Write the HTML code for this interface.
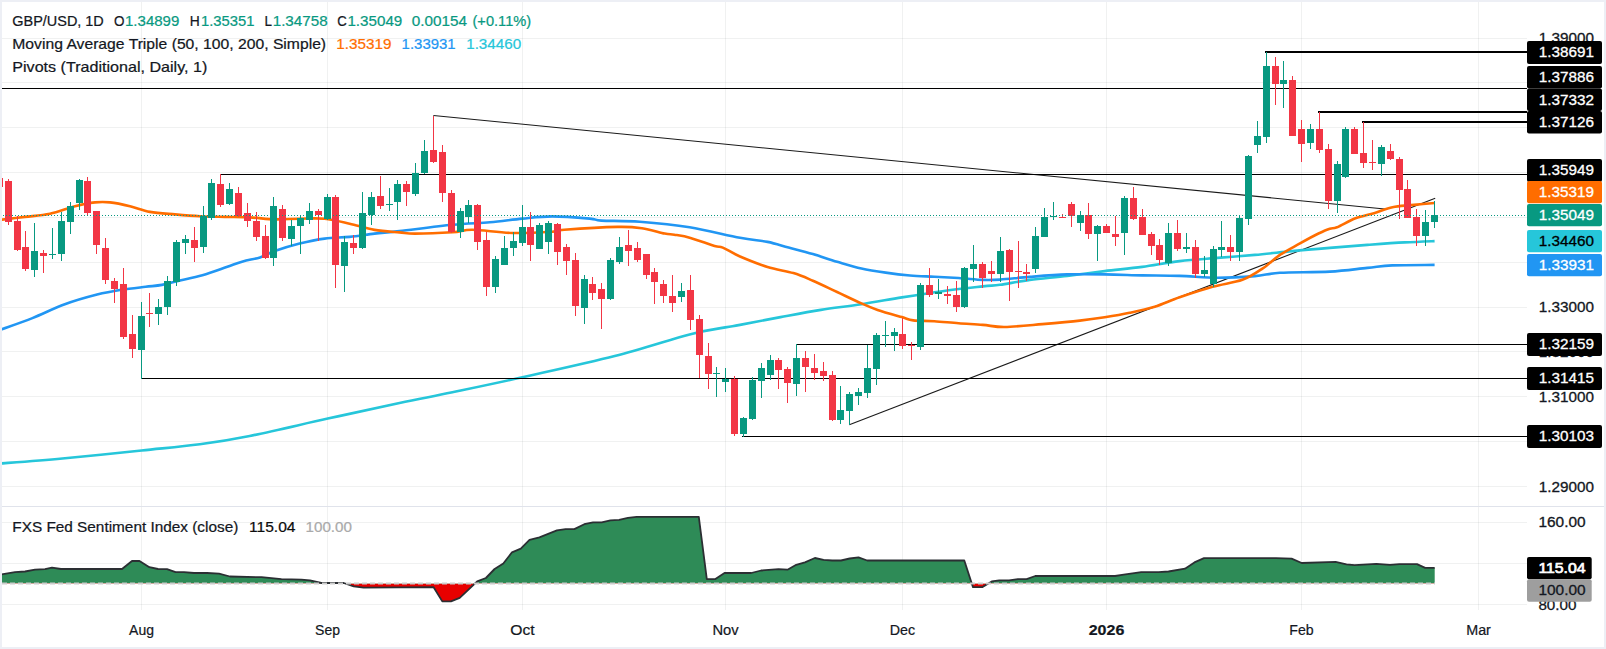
<!DOCTYPE html><html><head><meta charset="utf-8"><title>GBP/USD chart</title><style>html,body{margin:0;padding:0;background:#fff}svg{display:block}text{font-family:"Liberation Sans","DejaVu Sans",sans-serif}</style></head><body>
<svg width="1606" height="649" viewBox="0 0 1606 649">
<rect width="1606" height="649" fill="#fff"/>
<g stroke="rgb(110,125,125)" stroke-opacity="0.105" stroke-width="1" shape-rendering="crispEdges">
<line x1="0" y1="38.5" x2="1527" y2="38.5"/>
<line x1="0" y1="82.5" x2="1527" y2="82.5"/>
<line x1="0" y1="127.5" x2="1527" y2="127.5"/>
<line x1="0" y1="172.5" x2="1527" y2="172.5"/>
<line x1="0" y1="217.5" x2="1527" y2="217.5"/>
<line x1="0" y1="262.5" x2="1527" y2="262.5"/>
<line x1="0" y1="307.5" x2="1527" y2="307.5"/>
<line x1="0" y1="351.5" x2="1527" y2="351.5"/>
<line x1="0" y1="396.5" x2="1527" y2="396.5"/>
<line x1="0" y1="441.5" x2="1527" y2="441.5"/>
<line x1="0" y1="486.5" x2="1527" y2="486.5"/>
<line x1="0" y1="522.5" x2="1527" y2="522.5"/>
<line x1="0" y1="563.5" x2="1527" y2="563.5"/>
<line x1="0" y1="604.5" x2="1527" y2="604.5"/>
<line x1="141.5" y1="0" x2="141.5" y2="610"/>
<line x1="327.5" y1="0" x2="327.5" y2="610"/>
<line x1="522.5" y1="0" x2="522.5" y2="610"/>
<line x1="725.5" y1="0" x2="725.5" y2="610"/>
<line x1="902.5" y1="0" x2="902.5" y2="610"/>
<line x1="1106.5" y1="0" x2="1106.5" y2="610"/>
<line x1="1301.5" y1="0" x2="1301.5" y2="610"/>
<line x1="1478.5" y1="0" x2="1478.5" y2="610"/>
</g>
<line x1="0" y1="506.5" x2="1606" y2="506.5" stroke="#e0e3eb" stroke-width="1" shape-rendering="crispEdges"/>
<g stroke="#1a1a1a" stroke-width="1.05" fill="none">
<line x1="433.4" y1="115.5" x2="1387.2" y2="209.2"/>
<line x1="849.3" y1="424.8" x2="1435.2" y2="198.3"/>
</g>
<path d="M0.0,463.5 C10.4,462.7 38.8,460.7 62.4,458.5 C86.0,456.3 118.7,452.9 141.6,450.5 C164.5,448.1 181.8,446.7 199.8,444.3 C217.8,441.9 228.4,440.3 249.7,436.0 C271.0,431.7 302.8,424.1 327.8,418.6 C352.8,413.1 378.7,407.4 399.5,403.0 C420.3,398.6 431.9,396.6 452.4,392.3 C472.9,388.0 495.2,383.4 522.3,377.3 C549.3,371.2 586.8,363.1 614.7,356.0 C642.6,348.9 671.2,339.2 689.6,334.4 C708.0,329.6 716.9,329.0 725.3,327.4 C733.7,325.8 730.8,326.6 740.0,324.9 C749.2,323.2 767.0,319.6 780.5,317.1 C794.0,314.6 807.4,312.0 820.9,309.9 C834.4,307.8 847.9,306.3 861.4,304.2 C874.9,302.1 888.4,299.6 901.9,297.4 C915.4,295.2 928.9,293.0 942.4,291.2 C955.9,289.4 973.2,287.5 982.8,286.4 C992.4,285.3 992.2,285.9 1000.0,284.8 C1007.8,283.7 1018.6,281.4 1029.8,279.9 C1041.0,278.4 1054.8,277.4 1067.3,275.9 C1079.8,274.4 1092.2,272.6 1104.7,271.1 C1117.2,269.6 1129.7,268.6 1142.2,266.9 C1154.7,265.2 1167.0,262.6 1179.6,261.1 C1192.1,259.6 1205.0,258.9 1217.5,257.9 C1230.0,256.9 1242.4,256.0 1254.9,254.9 C1267.4,253.8 1279.9,252.3 1292.4,251.1 C1304.9,249.9 1317.3,248.9 1329.8,247.9 C1342.3,246.9 1354.8,245.8 1367.3,244.9 C1379.8,244.0 1393.5,243.0 1404.7,242.4 C1415.9,241.8 1429.6,241.3 1434.6,241.1" fill="none" stroke="#26c6da" stroke-width="2.6" stroke-linejoin="round"/>
<path d="M0.0,329.9 C5.4,327.9 21.6,322.4 32.4,318.1 C43.2,313.8 54.0,308.2 64.8,304.3 C75.6,300.4 87.7,297.0 97.1,294.6 C106.5,292.2 113.3,291.1 121.4,289.8 C129.5,288.5 138.9,287.6 145.7,286.8 C152.4,286.0 156.5,285.9 161.9,284.9 C167.3,283.9 171.3,282.5 178.1,280.9 C184.8,279.3 194.3,277.5 202.4,275.2 C210.5,272.9 219.9,269.4 226.6,267.1 C233.3,264.8 237.2,263.0 242.8,261.4 C248.4,259.8 254.7,259.1 260.0,257.4 C265.3,255.7 268.1,253.4 274.7,251.1 C281.3,248.8 291.3,245.7 299.6,243.6 C307.9,241.5 316.3,239.7 324.6,238.6 C332.9,237.5 341.3,237.7 349.6,236.9 C357.9,236.1 366.2,234.6 374.5,233.6 C382.8,232.6 386.5,232.6 399.5,231.1 C412.5,229.6 437.3,226.3 452.4,224.8 C467.5,223.3 478.2,223.3 489.9,222.3 C501.5,221.3 511.9,219.6 522.3,218.6 C532.7,217.6 541.0,216.4 552.3,216.4 C563.5,216.4 581.6,217.9 589.8,218.6 C598.0,219.3 593.1,220.1 601.4,220.6 C609.7,221.1 625.0,220.7 639.7,221.8 C654.4,222.9 672.9,224.6 689.6,227.3 C706.3,230.0 727.0,235.4 740.0,237.8 C753.0,240.2 759.4,240.3 767.5,241.9 C775.6,243.5 781.0,245.5 788.6,247.5 C796.2,249.5 804.8,251.6 812.9,254.0 C821.0,256.4 829.0,259.4 837.1,261.8 C845.2,264.2 853.3,266.8 861.4,268.6 C869.5,270.4 877.6,271.5 885.7,272.6 C893.8,273.8 901.9,274.8 910.0,275.5 C918.1,276.2 926.2,276.3 934.3,276.7 C942.4,277.1 950.5,277.5 958.6,278.0 C966.7,278.5 975.9,279.6 982.8,279.9 C989.7,280.2 992.2,280.1 1000.0,279.6 C1007.8,279.1 1018.6,277.8 1029.8,276.9 C1041.0,276.0 1054.8,274.8 1067.3,274.4 C1079.8,274.0 1092.2,274.2 1104.7,274.4 C1117.2,274.6 1129.7,275.1 1142.2,275.4 C1154.7,275.6 1167.0,275.5 1179.6,275.9 C1192.1,276.3 1205.0,277.8 1217.5,277.8 C1230.0,277.8 1244.5,276.9 1254.9,276.1 C1265.3,275.3 1267.4,273.6 1279.9,272.8 C1292.4,272.1 1315.2,272.4 1329.8,271.6 C1344.4,270.8 1356.9,268.9 1367.3,267.9 C1377.7,266.9 1381.0,265.9 1392.2,265.4 C1403.4,264.9 1427.5,265.0 1434.6,264.9" fill="none" stroke="#2196f3" stroke-width="2.6" stroke-linejoin="round"/>
<path d="M0.0,219.9 C4.2,219.4 16.7,217.9 25.0,216.9 C33.3,215.9 41.7,215.5 50.0,213.7 C58.3,211.9 67.5,208.1 75.0,206.2 C82.5,204.3 89.2,203.0 95.0,202.4 C100.8,201.8 104.2,201.8 110.0,202.4 C115.8,203.0 123.3,204.6 130.0,206.2 C136.7,207.8 142.5,210.5 150.0,211.9 C157.5,213.3 166.7,213.7 175.0,214.4 C183.3,215.1 191.7,215.8 200.0,216.2 C208.3,216.6 216.4,216.7 224.7,216.9 C233.0,217.1 241.7,217.0 250.0,217.4 C258.3,217.8 266.4,219.2 274.7,219.4 C283.0,219.6 291.3,218.8 299.6,218.7 C307.9,218.6 316.3,217.9 324.6,218.7 C332.9,219.5 341.3,221.8 349.6,223.7 C357.9,225.6 366.2,228.4 374.5,229.9 C382.8,231.4 392.8,231.8 399.5,232.4 C406.2,233.0 406.2,233.6 415.0,233.6 C423.8,233.6 442.8,232.9 452.4,232.3 C462.0,231.7 462.4,229.7 472.4,229.8 C482.4,229.9 499.1,232.7 512.4,233.0 C525.7,233.3 543.7,232.3 552.3,231.8 C560.9,231.3 553.3,230.6 564.2,229.8 C575.1,229.0 604.7,227.2 617.6,226.9 C630.5,226.6 634.0,227.1 641.9,228.2 C649.8,229.3 659.3,232.5 664.7,233.6 C670.1,234.7 670.0,234.0 674.3,234.7 C678.6,235.4 683.8,236.0 690.5,237.9 C697.2,239.8 709.2,244.4 714.6,246.0 C720.0,247.6 718.6,245.8 722.8,247.6 C727.0,249.3 732.5,253.3 740.0,256.5 C747.5,259.7 758.6,264.2 767.5,267.0 C776.4,269.8 785.8,270.8 793.4,273.1 C801.0,275.4 805.6,277.6 812.9,280.7 C820.2,283.8 829.0,288.2 837.1,292.0 C845.2,295.8 854.6,300.4 861.4,303.4 C868.1,306.4 870.9,307.6 877.6,309.9 C884.4,312.2 896.0,315.4 901.9,317.1 C907.8,318.9 907.8,319.7 913.2,320.4 C918.6,321.1 926.7,320.7 934.3,321.2 C941.9,321.7 950.5,322.7 958.6,323.3 C966.7,323.9 975.1,324.3 982.8,324.9 C990.5,325.5 994.7,327.1 1004.6,327.0 C1014.5,326.9 1029.8,325.2 1042.3,324.1 C1054.8,323.0 1069.4,321.7 1079.8,320.6 C1090.2,319.5 1096.4,318.6 1104.7,317.3 C1113.0,316.0 1121.4,314.6 1129.7,312.8 C1138.0,311.1 1146.4,309.4 1154.7,306.8 C1163.0,304.2 1170.0,300.6 1179.6,297.3 C1189.2,294.0 1202.0,289.7 1212.5,286.8 C1223.0,283.9 1234.1,282.8 1242.4,279.8 C1250.7,276.8 1256.2,272.8 1262.4,268.6 C1268.7,264.5 1273.6,259.1 1279.9,254.9 C1286.2,250.7 1293.6,247.0 1300.0,243.4 C1306.4,239.8 1313.5,235.9 1318.5,233.5 C1323.5,231.1 1326.7,229.7 1329.8,228.7 C1332.9,227.7 1332.7,229.0 1337.0,227.3 C1341.3,225.6 1349.3,220.7 1355.5,218.3 C1361.7,216.0 1367.8,215.0 1374.0,213.2 C1380.2,211.3 1386.3,208.5 1392.5,207.2 C1398.7,205.8 1404.0,205.8 1411.0,205.1 C1418.0,204.4 1430.7,203.3 1434.6,203.0" fill="none" stroke="#ff6d00" stroke-width="2.6" stroke-linejoin="round"/>
<g fill="#000" shape-rendering="crispEdges">
<rect x="1265" y="51" width="262" height="2"/>
<rect x="0" y="88" width="1527" height="1"/>
<rect x="1318" y="111" width="209" height="2"/>
<rect x="1362" y="121" width="165" height="2"/>
<rect x="220" y="174" width="1307" height="1"/>
<rect x="796" y="344" width="731" height="1"/>
<rect x="141" y="378" width="1386" height="1"/>
<rect x="742" y="436" width="785" height="1"/>
</g>
<g shape-rendering="crispEdges">
<rect x="-1" y="177" width="1" height="11" fill="#f23645"/>
<rect x="-4" y="178" width="7" height="9" fill="#f23645"/>
<rect x="8" y="179" width="1" height="46" fill="#f23645"/>
<rect x="5" y="181" width="7" height="41" fill="#f23645"/>
<rect x="17" y="216" width="1" height="35" fill="#f23645"/>
<rect x="14" y="221" width="7" height="29" fill="#f23645"/>
<rect x="25" y="231" width="1" height="40" fill="#f23645"/>
<rect x="22" y="247" width="7" height="22" fill="#f23645"/>
<rect x="34" y="223" width="1" height="54" fill="#089981"/>
<rect x="31" y="251" width="7" height="19" fill="#089981"/>
<rect x="43" y="250" width="1" height="23" fill="#f23645"/>
<rect x="40" y="253" width="7" height="3" fill="#f23645"/>
<rect x="52" y="228" width="1" height="31" fill="#089981"/>
<rect x="49" y="254" width="7" height="1" fill="#089981"/>
<rect x="61" y="212" width="1" height="49" fill="#089981"/>
<rect x="58" y="221" width="7" height="33" fill="#089981"/>
<rect x="70" y="202" width="1" height="32" fill="#089981"/>
<rect x="67" y="206" width="7" height="16" fill="#089981"/>
<rect x="79" y="179" width="1" height="31" fill="#089981"/>
<rect x="76" y="180" width="7" height="23" fill="#089981"/>
<rect x="87" y="177" width="1" height="39" fill="#f23645"/>
<rect x="84" y="181" width="7" height="32" fill="#f23645"/>
<rect x="96" y="211" width="1" height="43" fill="#f23645"/>
<rect x="93" y="211" width="7" height="34" fill="#f23645"/>
<rect x="105" y="238" width="1" height="46" fill="#f23645"/>
<rect x="102" y="248" width="7" height="32" fill="#f23645"/>
<rect x="114" y="278" width="1" height="25" fill="#f23645"/>
<rect x="111" y="281" width="7" height="8" fill="#f23645"/>
<rect x="123" y="268" width="1" height="71" fill="#f23645"/>
<rect x="120" y="284" width="7" height="53" fill="#f23645"/>
<rect x="132" y="315" width="1" height="43" fill="#f23645"/>
<rect x="129" y="334" width="7" height="15" fill="#f23645"/>
<rect x="141" y="302" width="1" height="77" fill="#089981"/>
<rect x="138" y="316" width="7" height="34" fill="#089981"/>
<rect x="149" y="293" width="1" height="34" fill="#f23645"/>
<rect x="146" y="313" width="7" height="1" fill="#f23645"/>
<rect x="158" y="299" width="1" height="26" fill="#089981"/>
<rect x="155" y="307" width="7" height="7" fill="#089981"/>
<rect x="167" y="276" width="1" height="39" fill="#089981"/>
<rect x="164" y="281" width="7" height="26" fill="#089981"/>
<rect x="176" y="240" width="1" height="46" fill="#089981"/>
<rect x="173" y="242" width="7" height="40" fill="#089981"/>
<rect x="185" y="235" width="1" height="19" fill="#089981"/>
<rect x="182" y="239" width="7" height="4" fill="#089981"/>
<rect x="194" y="227" width="1" height="35" fill="#f23645"/>
<rect x="191" y="240" width="7" height="8" fill="#f23645"/>
<rect x="203" y="206" width="1" height="47" fill="#089981"/>
<rect x="200" y="216" width="7" height="31" fill="#089981"/>
<rect x="211" y="179" width="1" height="41" fill="#089981"/>
<rect x="208" y="183" width="7" height="35" fill="#089981"/>
<rect x="220" y="174" width="1" height="33" fill="#f23645"/>
<rect x="217" y="184" width="7" height="21" fill="#f23645"/>
<rect x="229" y="183" width="1" height="22" fill="#089981"/>
<rect x="226" y="189" width="7" height="15" fill="#089981"/>
<rect x="238" y="187" width="1" height="30" fill="#f23645"/>
<rect x="235" y="193" width="7" height="23" fill="#f23645"/>
<rect x="247" y="203" width="1" height="24" fill="#f23645"/>
<rect x="244" y="213" width="7" height="8" fill="#f23645"/>
<rect x="256" y="212" width="1" height="29" fill="#f23645"/>
<rect x="253" y="221" width="7" height="16" fill="#f23645"/>
<rect x="265" y="225" width="1" height="34" fill="#f23645"/>
<rect x="262" y="236" width="7" height="22" fill="#f23645"/>
<rect x="273" y="197" width="1" height="69" fill="#089981"/>
<rect x="270" y="206" width="7" height="52" fill="#089981"/>
<rect x="282" y="205" width="1" height="36" fill="#f23645"/>
<rect x="279" y="209" width="7" height="29" fill="#f23645"/>
<rect x="291" y="220" width="1" height="26" fill="#089981"/>
<rect x="288" y="226" width="7" height="13" fill="#089981"/>
<rect x="300" y="216" width="1" height="38" fill="#089981"/>
<rect x="297" y="218" width="7" height="8" fill="#089981"/>
<rect x="309" y="203" width="1" height="21" fill="#089981"/>
<rect x="306" y="211" width="7" height="9" fill="#089981"/>
<rect x="318" y="209" width="1" height="32" fill="#f23645"/>
<rect x="315" y="211" width="7" height="4" fill="#f23645"/>
<rect x="327" y="194" width="1" height="26" fill="#089981"/>
<rect x="324" y="197" width="7" height="22" fill="#089981"/>
<rect x="335" y="195" width="1" height="93" fill="#f23645"/>
<rect x="332" y="197" width="7" height="68" fill="#f23645"/>
<rect x="344" y="236" width="1" height="56" fill="#089981"/>
<rect x="341" y="242" width="7" height="24" fill="#089981"/>
<rect x="353" y="235" width="1" height="19" fill="#f23645"/>
<rect x="350" y="243" width="7" height="5" fill="#f23645"/>
<rect x="362" y="192" width="1" height="57" fill="#089981"/>
<rect x="359" y="213" width="7" height="35" fill="#089981"/>
<rect x="371" y="192" width="1" height="33" fill="#089981"/>
<rect x="368" y="197" width="7" height="18" fill="#089981"/>
<rect x="380" y="176" width="1" height="33" fill="#f23645"/>
<rect x="377" y="196" width="7" height="10" fill="#f23645"/>
<rect x="389" y="188" width="1" height="23" fill="#089981"/>
<rect x="386" y="204" width="7" height="1" fill="#089981"/>
<rect x="397" y="180" width="1" height="40" fill="#089981"/>
<rect x="394" y="184" width="7" height="18" fill="#089981"/>
<rect x="406" y="181" width="1" height="25" fill="#f23645"/>
<rect x="403" y="184" width="7" height="8" fill="#f23645"/>
<rect x="415" y="163" width="1" height="33" fill="#089981"/>
<rect x="412" y="173" width="7" height="21" fill="#089981"/>
<rect x="424" y="140" width="1" height="34" fill="#089981"/>
<rect x="421" y="151" width="7" height="22" fill="#089981"/>
<rect x="433" y="116" width="1" height="47" fill="#f23645"/>
<rect x="430" y="150" width="7" height="12" fill="#f23645"/>
<rect x="442" y="145" width="1" height="57" fill="#f23645"/>
<rect x="439" y="152" width="7" height="41" fill="#f23645"/>
<rect x="451" y="190" width="1" height="43" fill="#f23645"/>
<rect x="448" y="193" width="7" height="39" fill="#f23645"/>
<rect x="460" y="208" width="1" height="30" fill="#089981"/>
<rect x="457" y="211" width="7" height="21" fill="#089981"/>
<rect x="468" y="200" width="1" height="23" fill="#089981"/>
<rect x="465" y="205" width="7" height="12" fill="#089981"/>
<rect x="477" y="204" width="1" height="46" fill="#f23645"/>
<rect x="474" y="205" width="7" height="37" fill="#f23645"/>
<rect x="486" y="232" width="1" height="64" fill="#f23645"/>
<rect x="483" y="240" width="7" height="47" fill="#f23645"/>
<rect x="495" y="256" width="1" height="37" fill="#089981"/>
<rect x="492" y="259" width="7" height="28" fill="#089981"/>
<rect x="504" y="236" width="1" height="29" fill="#089981"/>
<rect x="501" y="248" width="7" height="17" fill="#089981"/>
<rect x="513" y="232" width="1" height="24" fill="#089981"/>
<rect x="510" y="241" width="7" height="7" fill="#089981"/>
<rect x="522" y="205" width="1" height="41" fill="#089981"/>
<rect x="519" y="227" width="7" height="16" fill="#089981"/>
<rect x="530" y="212" width="1" height="49" fill="#f23645"/>
<rect x="527" y="227" width="7" height="18" fill="#f23645"/>
<rect x="539" y="223" width="1" height="26" fill="#089981"/>
<rect x="536" y="225" width="7" height="24" fill="#089981"/>
<rect x="548" y="221" width="1" height="33" fill="#089981"/>
<rect x="545" y="223" width="7" height="19" fill="#089981"/>
<rect x="557" y="223" width="1" height="42" fill="#f23645"/>
<rect x="554" y="224" width="7" height="28" fill="#f23645"/>
<rect x="566" y="244" width="1" height="31" fill="#f23645"/>
<rect x="563" y="247" width="7" height="14" fill="#f23645"/>
<rect x="575" y="253" width="1" height="63" fill="#f23645"/>
<rect x="572" y="260" width="7" height="46" fill="#f23645"/>
<rect x="584" y="275" width="1" height="49" fill="#089981"/>
<rect x="581" y="279" width="7" height="29" fill="#089981"/>
<rect x="592" y="277" width="1" height="23" fill="#f23645"/>
<rect x="589" y="284" width="7" height="9" fill="#f23645"/>
<rect x="601" y="283" width="1" height="46" fill="#f23645"/>
<rect x="598" y="289" width="7" height="10" fill="#f23645"/>
<rect x="610" y="258" width="1" height="42" fill="#089981"/>
<rect x="607" y="260" width="7" height="39" fill="#089981"/>
<rect x="619" y="237" width="1" height="27" fill="#089981"/>
<rect x="616" y="247" width="7" height="15" fill="#089981"/>
<rect x="628" y="230" width="1" height="36" fill="#f23645"/>
<rect x="625" y="245" width="7" height="6" fill="#f23645"/>
<rect x="637" y="242" width="1" height="20" fill="#f23645"/>
<rect x="634" y="248" width="7" height="12" fill="#f23645"/>
<rect x="646" y="254" width="1" height="25" fill="#f23645"/>
<rect x="643" y="254" width="7" height="21" fill="#f23645"/>
<rect x="654" y="268" width="1" height="36" fill="#f23645"/>
<rect x="651" y="272" width="7" height="10" fill="#f23645"/>
<rect x="663" y="280" width="1" height="23" fill="#f23645"/>
<rect x="660" y="284" width="7" height="12" fill="#f23645"/>
<rect x="672" y="275" width="1" height="37" fill="#f23645"/>
<rect x="669" y="296" width="7" height="7" fill="#f23645"/>
<rect x="681" y="283" width="1" height="19" fill="#089981"/>
<rect x="678" y="291" width="7" height="6" fill="#089981"/>
<rect x="690" y="275" width="1" height="55" fill="#f23645"/>
<rect x="687" y="290" width="7" height="30" fill="#f23645"/>
<rect x="699" y="315" width="1" height="63" fill="#f23645"/>
<rect x="696" y="319" width="7" height="36" fill="#f23645"/>
<rect x="708" y="343" width="1" height="46" fill="#f23645"/>
<rect x="705" y="356" width="7" height="18" fill="#f23645"/>
<rect x="716" y="367" width="1" height="30" fill="#089981"/>
<rect x="713" y="373" width="7" height="1" fill="#089981"/>
<rect x="725" y="368" width="1" height="24" fill="#089981"/>
<rect x="722" y="379" width="7" height="3" fill="#089981"/>
<rect x="734" y="376" width="1" height="60" fill="#f23645"/>
<rect x="731" y="379" width="7" height="55" fill="#f23645"/>
<rect x="743" y="417" width="1" height="20" fill="#089981"/>
<rect x="740" y="418" width="7" height="16" fill="#089981"/>
<rect x="752" y="377" width="1" height="43" fill="#089981"/>
<rect x="749" y="380" width="7" height="39" fill="#089981"/>
<rect x="761" y="363" width="1" height="35" fill="#089981"/>
<rect x="758" y="368" width="7" height="13" fill="#089981"/>
<rect x="770" y="355" width="1" height="25" fill="#089981"/>
<rect x="767" y="360" width="7" height="15" fill="#089981"/>
<rect x="778" y="358" width="1" height="31" fill="#f23645"/>
<rect x="775" y="360" width="7" height="10" fill="#f23645"/>
<rect x="787" y="367" width="1" height="36" fill="#f23645"/>
<rect x="784" y="369" width="7" height="14" fill="#f23645"/>
<rect x="796" y="344" width="1" height="52" fill="#089981"/>
<rect x="793" y="358" width="7" height="26" fill="#089981"/>
<rect x="805" y="351" width="1" height="41" fill="#f23645"/>
<rect x="802" y="358" width="7" height="9" fill="#f23645"/>
<rect x="814" y="354" width="1" height="26" fill="#f23645"/>
<rect x="811" y="368" width="7" height="5" fill="#f23645"/>
<rect x="823" y="362" width="1" height="19" fill="#f23645"/>
<rect x="820" y="371" width="7" height="5" fill="#f23645"/>
<rect x="832" y="371" width="1" height="50" fill="#f23645"/>
<rect x="829" y="375" width="7" height="45" fill="#f23645"/>
<rect x="840" y="386" width="1" height="38" fill="#089981"/>
<rect x="837" y="410" width="7" height="10" fill="#089981"/>
<rect x="849" y="392" width="1" height="33" fill="#089981"/>
<rect x="846" y="394" width="7" height="17" fill="#089981"/>
<rect x="858" y="388" width="1" height="17" fill="#089981"/>
<rect x="855" y="392" width="7" height="4" fill="#089981"/>
<rect x="867" y="345" width="1" height="53" fill="#089981"/>
<rect x="864" y="368" width="7" height="25" fill="#089981"/>
<rect x="876" y="333" width="1" height="52" fill="#089981"/>
<rect x="873" y="335" width="7" height="34" fill="#089981"/>
<rect x="885" y="321" width="1" height="26" fill="#089981"/>
<rect x="882" y="335" width="7" height="1" fill="#089981"/>
<rect x="894" y="328" width="1" height="23" fill="#089981"/>
<rect x="891" y="332" width="7" height="4" fill="#089981"/>
<rect x="902" y="318" width="1" height="31" fill="#f23645"/>
<rect x="899" y="334" width="7" height="12" fill="#f23645"/>
<rect x="911" y="342" width="1" height="18" fill="#f23645"/>
<rect x="908" y="345" width="7" height="1" fill="#f23645"/>
<rect x="920" y="283" width="1" height="67" fill="#089981"/>
<rect x="917" y="285" width="7" height="62" fill="#089981"/>
<rect x="929" y="268" width="1" height="29" fill="#f23645"/>
<rect x="926" y="285" width="7" height="10" fill="#f23645"/>
<rect x="938" y="279" width="1" height="20" fill="#089981"/>
<rect x="935" y="292" width="7" height="2" fill="#089981"/>
<rect x="947" y="286" width="1" height="18" fill="#f23645"/>
<rect x="944" y="294" width="7" height="2" fill="#f23645"/>
<rect x="956" y="281" width="1" height="31" fill="#f23645"/>
<rect x="953" y="295" width="7" height="12" fill="#f23645"/>
<rect x="964" y="267" width="1" height="41" fill="#089981"/>
<rect x="961" y="268" width="7" height="39" fill="#089981"/>
<rect x="973" y="245" width="1" height="37" fill="#089981"/>
<rect x="970" y="264" width="7" height="5" fill="#089981"/>
<rect x="982" y="262" width="1" height="26" fill="#f23645"/>
<rect x="979" y="264" width="7" height="14" fill="#f23645"/>
<rect x="991" y="261" width="1" height="21" fill="#f23645"/>
<rect x="988" y="271" width="7" height="3" fill="#f23645"/>
<rect x="1000" y="237" width="1" height="45" fill="#089981"/>
<rect x="997" y="251" width="7" height="23" fill="#089981"/>
<rect x="1009" y="249" width="1" height="52" fill="#f23645"/>
<rect x="1006" y="250" width="7" height="22" fill="#f23645"/>
<rect x="1018" y="241" width="1" height="47" fill="#f23645"/>
<rect x="1015" y="271" width="7" height="1" fill="#f23645"/>
<rect x="1026" y="264" width="1" height="17" fill="#f23645"/>
<rect x="1023" y="272" width="7" height="2" fill="#f23645"/>
<rect x="1035" y="227" width="1" height="46" fill="#089981"/>
<rect x="1032" y="236" width="7" height="33" fill="#089981"/>
<rect x="1044" y="208" width="1" height="29" fill="#089981"/>
<rect x="1041" y="217" width="7" height="20" fill="#089981"/>
<rect x="1053" y="202" width="1" height="18" fill="#089981"/>
<rect x="1050" y="216" width="7" height="1" fill="#089981"/>
<rect x="1062" y="214" width="1" height="4" fill="#f23645"/>
<rect x="1059" y="217" width="7" height="1" fill="#f23645"/>
<rect x="1071" y="202" width="1" height="25" fill="#f23645"/>
<rect x="1068" y="204" width="7" height="12" fill="#f23645"/>
<rect x="1080" y="211" width="1" height="20" fill="#089981"/>
<rect x="1077" y="215" width="7" height="8" fill="#089981"/>
<rect x="1088" y="203" width="1" height="36" fill="#f23645"/>
<rect x="1085" y="215" width="7" height="19" fill="#f23645"/>
<rect x="1097" y="225" width="1" height="36" fill="#089981"/>
<rect x="1094" y="226" width="7" height="8" fill="#089981"/>
<rect x="1106" y="224" width="1" height="9" fill="#f23645"/>
<rect x="1103" y="226" width="7" height="7" fill="#f23645"/>
<rect x="1115" y="216" width="1" height="30" fill="#f23645"/>
<rect x="1112" y="234" width="7" height="3" fill="#f23645"/>
<rect x="1124" y="196" width="1" height="59" fill="#089981"/>
<rect x="1121" y="198" width="7" height="35" fill="#089981"/>
<rect x="1133" y="187" width="1" height="33" fill="#f23645"/>
<rect x="1130" y="198" width="7" height="21" fill="#f23645"/>
<rect x="1142" y="209" width="1" height="26" fill="#f23645"/>
<rect x="1139" y="217" width="7" height="18" fill="#f23645"/>
<rect x="1151" y="232" width="1" height="23" fill="#f23645"/>
<rect x="1148" y="234" width="7" height="12" fill="#f23645"/>
<rect x="1159" y="239" width="1" height="26" fill="#f23645"/>
<rect x="1156" y="245" width="7" height="15" fill="#f23645"/>
<rect x="1168" y="223" width="1" height="43" fill="#089981"/>
<rect x="1165" y="233" width="7" height="30" fill="#089981"/>
<rect x="1177" y="220" width="1" height="31" fill="#f23645"/>
<rect x="1174" y="233" width="7" height="16" fill="#f23645"/>
<rect x="1186" y="233" width="1" height="20" fill="#089981"/>
<rect x="1183" y="247" width="7" height="2" fill="#089981"/>
<rect x="1195" y="240" width="1" height="38" fill="#f23645"/>
<rect x="1192" y="247" width="7" height="27" fill="#f23645"/>
<rect x="1204" y="256" width="1" height="21" fill="#089981"/>
<rect x="1201" y="270" width="7" height="4" fill="#089981"/>
<rect x="1213" y="246" width="1" height="41" fill="#089981"/>
<rect x="1210" y="249" width="7" height="35" fill="#089981"/>
<rect x="1221" y="221" width="1" height="36" fill="#089981"/>
<rect x="1218" y="247" width="7" height="3" fill="#089981"/>
<rect x="1230" y="235" width="1" height="26" fill="#f23645"/>
<rect x="1227" y="247" width="7" height="5" fill="#f23645"/>
<rect x="1239" y="216" width="1" height="45" fill="#089981"/>
<rect x="1236" y="218" width="7" height="34" fill="#089981"/>
<rect x="1248" y="155" width="1" height="70" fill="#089981"/>
<rect x="1245" y="156" width="7" height="63" fill="#089981"/>
<rect x="1257" y="121" width="1" height="32" fill="#089981"/>
<rect x="1254" y="136" width="7" height="9" fill="#089981"/>
<rect x="1266" y="52" width="1" height="91" fill="#089981"/>
<rect x="1263" y="66" width="7" height="71" fill="#089981"/>
<rect x="1275" y="57" width="1" height="48" fill="#f23645"/>
<rect x="1272" y="66" width="7" height="18" fill="#f23645"/>
<rect x="1283" y="61" width="1" height="47" fill="#089981"/>
<rect x="1280" y="80" width="7" height="4" fill="#089981"/>
<rect x="1292" y="76" width="1" height="60" fill="#f23645"/>
<rect x="1289" y="80" width="7" height="56" fill="#f23645"/>
<rect x="1301" y="120" width="1" height="42" fill="#f23645"/>
<rect x="1298" y="129" width="7" height="15" fill="#f23645"/>
<rect x="1310" y="124" width="1" height="25" fill="#089981"/>
<rect x="1307" y="129" width="7" height="14" fill="#089981"/>
<rect x="1319" y="112" width="1" height="41" fill="#f23645"/>
<rect x="1316" y="129" width="7" height="21" fill="#f23645"/>
<rect x="1328" y="144" width="1" height="65" fill="#f23645"/>
<rect x="1325" y="149" width="7" height="52" fill="#f23645"/>
<rect x="1337" y="161" width="1" height="52" fill="#089981"/>
<rect x="1334" y="164" width="7" height="37" fill="#089981"/>
<rect x="1345" y="127" width="1" height="51" fill="#089981"/>
<rect x="1342" y="129" width="7" height="48" fill="#089981"/>
<rect x="1354" y="127" width="1" height="27" fill="#f23645"/>
<rect x="1351" y="129" width="7" height="25" fill="#f23645"/>
<rect x="1363" y="122" width="1" height="46" fill="#f23645"/>
<rect x="1360" y="153" width="7" height="10" fill="#f23645"/>
<rect x="1372" y="140" width="1" height="30" fill="#f23645"/>
<rect x="1369" y="162" width="7" height="1" fill="#f23645"/>
<rect x="1381" y="145" width="1" height="31" fill="#089981"/>
<rect x="1378" y="147" width="7" height="17" fill="#089981"/>
<rect x="1390" y="144" width="1" height="16" fill="#f23645"/>
<rect x="1387" y="151" width="7" height="8" fill="#f23645"/>
<rect x="1399" y="157" width="1" height="62" fill="#f23645"/>
<rect x="1396" y="159" width="7" height="31" fill="#f23645"/>
<rect x="1407" y="180" width="1" height="38" fill="#f23645"/>
<rect x="1404" y="189" width="7" height="29" fill="#f23645"/>
<rect x="1416" y="209" width="1" height="37" fill="#f23645"/>
<rect x="1413" y="217" width="7" height="19" fill="#f23645"/>
<rect x="1425" y="210" width="1" height="36" fill="#089981"/>
<rect x="1422" y="222" width="7" height="14" fill="#089981"/>
<rect x="1434" y="201" width="1" height="27" fill="#089981"/>
<rect x="1431" y="215" width="7" height="7" fill="#089981"/>
</g>
<line x1="0" y1="215.5" x2="1527" y2="215.5" stroke="#089981" stroke-width="1" stroke-dasharray="1 2" shape-rendering="crispEdges"/>
<text x="1538.8" y="43.3" font-size="14.7" fill="#131722" stroke="#131722" stroke-width="0.3" font-weight="normal" textLength="55.2" lengthAdjust="spacingAndGlyphs">1.39000</text>
<text x="1538.8" y="312.1" font-size="14.7" fill="#131722" stroke="#131722" stroke-width="0.3" font-weight="normal" textLength="55.2" lengthAdjust="spacingAndGlyphs">1.33000</text>
<text x="1538.8" y="356.9" font-size="14.7" fill="#131722" stroke="#131722" stroke-width="0.3" font-weight="normal" textLength="55.2" lengthAdjust="spacingAndGlyphs">1.32000</text>
<text x="1538.8" y="401.7" font-size="14.7" fill="#131722" stroke="#131722" stroke-width="0.3" font-weight="normal" textLength="55.2" lengthAdjust="spacingAndGlyphs">1.31000</text>
<text x="1538.8" y="492.2" font-size="14.7" fill="#131722" stroke="#131722" stroke-width="0.3" font-weight="normal" textLength="55.2" lengthAdjust="spacingAndGlyphs">1.29000</text>
<rect x="1527" y="41" width="75" height="23" rx="2" fill="#000"/>
<text x="1538.8" y="57.4" font-size="14.7" fill="#fff" stroke="#fff" stroke-width="0.3" font-weight="normal" textLength="55.2" lengthAdjust="spacingAndGlyphs">1.38691</text>
<rect x="1527" y="66" width="75" height="22.599999999999994" rx="2" fill="#000"/>
<text x="1538.8" y="82.2" font-size="14.7" fill="#fff" stroke="#fff" stroke-width="0.3" font-weight="normal" textLength="55.2" lengthAdjust="spacingAndGlyphs">1.37886</text>
<rect x="1527" y="88.6" width="75" height="22.400000000000006" rx="2" fill="#000"/>
<text x="1538.8" y="104.7" font-size="14.7" fill="#fff" stroke="#fff" stroke-width="0.3" font-weight="normal" textLength="55.2" lengthAdjust="spacingAndGlyphs">1.37332</text>
<rect x="1527" y="111" width="75" height="22.599999999999994" rx="2" fill="#000"/>
<text x="1538.8" y="127.2" font-size="14.7" fill="#fff" stroke="#fff" stroke-width="0.3" font-weight="normal" textLength="55.2" lengthAdjust="spacingAndGlyphs">1.37126</text>
<rect x="1527" y="159" width="75" height="23" rx="2" fill="#000"/>
<text x="1538.8" y="175.4" font-size="14.7" fill="#fff" stroke="#fff" stroke-width="0.3" font-weight="normal" textLength="55.2" lengthAdjust="spacingAndGlyphs">1.35949</text>
<rect x="1527" y="333" width="75" height="23" rx="2" fill="#000"/>
<text x="1538.8" y="349.4" font-size="14.7" fill="#fff" stroke="#fff" stroke-width="0.3" font-weight="normal" textLength="55.2" lengthAdjust="spacingAndGlyphs">1.32159</text>
<rect x="1527" y="367" width="75" height="23" rx="2" fill="#000"/>
<text x="1538.8" y="383.4" font-size="14.7" fill="#fff" stroke="#fff" stroke-width="0.3" font-weight="normal" textLength="55.2" lengthAdjust="spacingAndGlyphs">1.31415</text>
<rect x="1527" y="425" width="75" height="23" rx="2" fill="#000"/>
<text x="1538.8" y="441.4" font-size="14.7" fill="#fff" stroke="#fff" stroke-width="0.3" font-weight="normal" textLength="55.2" lengthAdjust="spacingAndGlyphs">1.30103</text>
<rect x="1527" y="181" width="75" height="22.30000000000001" rx="2" fill="#ff6d00"/>
<text x="1538.8" y="197.1" font-size="14.7" fill="#fff" stroke="#fff" stroke-width="0.3" font-weight="normal" textLength="55.2" lengthAdjust="spacingAndGlyphs">1.35319</text>
<rect x="1527" y="204" width="75" height="22.30000000000001" rx="2" fill="#089981"/>
<text x="1538.8" y="220.1" font-size="14.7" fill="#fff" stroke="#fff" stroke-width="0.3" font-weight="normal" textLength="55.2" lengthAdjust="spacingAndGlyphs">1.35049</text>
<rect x="1527" y="230" width="75" height="22.30000000000001" rx="2" fill="#26c6da"/>
<text x="1538.8" y="246.1" font-size="14.7" fill="#000" stroke="#000" stroke-width="0.3" font-weight="normal" textLength="55.2" lengthAdjust="spacingAndGlyphs">1.34460</text>
<rect x="1527" y="254" width="75" height="22.30000000000001" rx="2" fill="#2196f3"/>
<text x="1538.8" y="270.0" font-size="14.7" fill="#fff" stroke="#fff" stroke-width="0.3" font-weight="normal" textLength="55.2" lengthAdjust="spacingAndGlyphs">1.33931</text>
<text x="12.3" y="25.5" font-size="14.5" fill="#131722" stroke="#131722" stroke-width="0.22" font-weight="normal" textLength="91.5" lengthAdjust="spacingAndGlyphs">GBP/USD, 1D</text>
<text x="114" y="25.5" font-size="14.5" fill="#131722" stroke="#131722" stroke-width="0.22" font-weight="normal" textLength="10.5" lengthAdjust="spacingAndGlyphs">O</text>
<text x="125" y="25.5" font-size="14.5" fill="#089981" stroke="#089981" stroke-width="0.22" font-weight="normal" textLength="54.3" lengthAdjust="spacingAndGlyphs">1.34899</text>
<text x="189.8" y="25.5" font-size="14.5" fill="#131722" stroke="#131722" stroke-width="0.22" font-weight="normal" textLength="10" lengthAdjust="spacingAndGlyphs">H</text>
<text x="201" y="25.5" font-size="14.5" fill="#089981" stroke="#089981" stroke-width="0.22" font-weight="normal" textLength="53.5" lengthAdjust="spacingAndGlyphs">1.35351</text>
<text x="264.5" y="25.5" font-size="14.5" fill="#131722" stroke="#131722" stroke-width="0.22" font-weight="normal" textLength="7.5" lengthAdjust="spacingAndGlyphs">L</text>
<text x="272.7" y="25.5" font-size="14.5" fill="#089981" stroke="#089981" stroke-width="0.22" font-weight="normal" textLength="54.9" lengthAdjust="spacingAndGlyphs">1.34758</text>
<text x="337.3" y="25.5" font-size="14.5" fill="#131722" stroke="#131722" stroke-width="0.22" font-weight="normal" textLength="9.5" lengthAdjust="spacingAndGlyphs">C</text>
<text x="347.4" y="25.5" font-size="14.5" fill="#089981" stroke="#089981" stroke-width="0.22" font-weight="normal" textLength="54.9" lengthAdjust="spacingAndGlyphs">1.35049</text>
<text x="411.7" y="25.5" font-size="14.5" fill="#089981" stroke="#089981" stroke-width="0.22" font-weight="normal" textLength="55.3" lengthAdjust="spacingAndGlyphs">0.00154</text>
<text x="472.5" y="25.5" font-size="14.5" fill="#089981" stroke="#089981" stroke-width="0.22" font-weight="normal" textLength="58.7" lengthAdjust="spacingAndGlyphs">(+0.11%)</text>
<text x="12.3" y="48.7" font-size="14.5" fill="#131722" stroke="#131722" stroke-width="0.22" font-weight="normal" textLength="313.8" lengthAdjust="spacingAndGlyphs">Moving Average Triple (50, 100, 200, Simple)</text>
<text x="336.2" y="48.7" font-size="14.5" fill="#ff6d00" stroke="#ff6d00" stroke-width="0.22" font-weight="normal" textLength="55.3" lengthAdjust="spacingAndGlyphs">1.35319</text>
<text x="401.6" y="48.7" font-size="14.5" fill="#2196f3" stroke="#2196f3" stroke-width="0.22" font-weight="normal" textLength="54.1" lengthAdjust="spacingAndGlyphs">1.33931</text>
<text x="466.2" y="48.7" font-size="14.5" fill="#26c6da" stroke="#26c6da" stroke-width="0.22" font-weight="normal" textLength="54.9" lengthAdjust="spacingAndGlyphs">1.34460</text>
<text x="12.3" y="71.5" font-size="14.5" fill="#131722" stroke="#131722" stroke-width="0.22" font-weight="normal" textLength="195" lengthAdjust="spacingAndGlyphs">Pivots (Traditional, Daily, 1)</text>
<defs><clipPath id="up"><rect x="0" y="506" width="1527" height="77.4"/></clipPath><clipPath id="dn"><rect x="0" y="583.4" width="1527" height="30"/></clipPath></defs>
<path d="M0.0,574.7 L15.0,572.2 L25.0,571.5 L35.0,569.7 L45.0,569.2 L52.0,567.7 L61.0,569.0 L122.0,569.0 L132.0,561.0 L139.5,561.0 L149.4,567.2 L158.0,569.0 L167.0,569.2 L175.6,572.2 L184.0,572.2 L194.0,573.0 L207.0,573.0 L219.0,573.7 L230.0,576.5 L261.5,577.2 L281.4,579.2 L301.4,579.7 L310.0,580.4 L321.3,583.0 L343.7,583.0 L353.7,586.4 L363.6,587.7 L433.6,587.2 L442.3,601.4 L451.0,601.4 L459.7,597.9 L468.5,589.7 L477.2,581.4 L485.9,578.0 L494.6,569.0 L503.3,563.5 L512.0,552.3 L520.8,548.6 L529.5,539.9 L539.4,537.4 L556.9,530.4 L565.6,529.1 L574.3,529.1 L584.3,524.2 L593.0,522.4 L601.7,522.4 L610.4,520.4 L619.1,519.9 L627.9,517.9 L636.6,516.9 L698.8,516.9 L706.8,579.2 L715.0,579.2 L724.5,573.0 L751.2,573.0 L761.1,570.5 L778.5,569.2 L787.5,569.7 L796.2,564.8 L804.9,562.3 L814.9,558.0 L823.6,559.8 L832.3,560.5 L841.0,560.5 L849.7,558.5 L858.5,557.3 L867.2,560.5 L964.3,560.5 L973.0,587.2 L982.2,587.2 L991.7,581.4 L999.2,580.4 L1009.1,580.4 L1017.9,579.2 L1026.6,579.2 L1035.3,576.0 L1115.0,576.0 L1123.7,574.7 L1141.2,572.2 L1158.6,572.2 L1168.5,571.5 L1185.0,568.7 L1194.4,562.4 L1204.0,558.1 L1276.0,558.1 L1291.6,558.6 L1301.7,563.0 L1335.6,561.9 L1346.5,564.3 L1354.6,565.2 L1376.4,563.8 L1390.0,564.9 L1399.4,564.1 L1417.0,564.1 L1425.2,567.9 L1434.7,567.9 L1434.7,583.4 L0,583.4 Z" fill="#2e8b57" clip-path="url(#up)"/>
<path d="M0.0,574.7 L15.0,572.2 L25.0,571.5 L35.0,569.7 L45.0,569.2 L52.0,567.7 L61.0,569.0 L122.0,569.0 L132.0,561.0 L139.5,561.0 L149.4,567.2 L158.0,569.0 L167.0,569.2 L175.6,572.2 L184.0,572.2 L194.0,573.0 L207.0,573.0 L219.0,573.7 L230.0,576.5 L261.5,577.2 L281.4,579.2 L301.4,579.7 L310.0,580.4 L321.3,583.0 L343.7,583.0 L353.7,586.4 L363.6,587.7 L433.6,587.2 L442.3,601.4 L451.0,601.4 L459.7,597.9 L468.5,589.7 L477.2,581.4 L485.9,578.0 L494.6,569.0 L503.3,563.5 L512.0,552.3 L520.8,548.6 L529.5,539.9 L539.4,537.4 L556.9,530.4 L565.6,529.1 L574.3,529.1 L584.3,524.2 L593.0,522.4 L601.7,522.4 L610.4,520.4 L619.1,519.9 L627.9,517.9 L636.6,516.9 L698.8,516.9 L706.8,579.2 L715.0,579.2 L724.5,573.0 L751.2,573.0 L761.1,570.5 L778.5,569.2 L787.5,569.7 L796.2,564.8 L804.9,562.3 L814.9,558.0 L823.6,559.8 L832.3,560.5 L841.0,560.5 L849.7,558.5 L858.5,557.3 L867.2,560.5 L964.3,560.5 L973.0,587.2 L982.2,587.2 L991.7,581.4 L999.2,580.4 L1009.1,580.4 L1017.9,579.2 L1026.6,579.2 L1035.3,576.0 L1115.0,576.0 L1123.7,574.7 L1141.2,572.2 L1158.6,572.2 L1168.5,571.5 L1185.0,568.7 L1194.4,562.4 L1204.0,558.1 L1276.0,558.1 L1291.6,558.6 L1301.7,563.0 L1335.6,561.9 L1346.5,564.3 L1354.6,565.2 L1376.4,563.8 L1390.0,564.9 L1399.4,564.1 L1417.0,564.1 L1425.2,567.9 L1434.7,567.9 L1434.7,583.4 L0,583.4 Z" fill="#e80000" clip-path="url(#dn)"/>
<path d="M0.0,574.7 L15.0,572.2 L25.0,571.5 L35.0,569.7 L45.0,569.2 L52.0,567.7 L61.0,569.0 L122.0,569.0 L132.0,561.0 L139.5,561.0 L149.4,567.2 L158.0,569.0 L167.0,569.2 L175.6,572.2 L184.0,572.2 L194.0,573.0 L207.0,573.0 L219.0,573.7 L230.0,576.5 L261.5,577.2 L281.4,579.2 L301.4,579.7 L310.0,580.4 L321.3,583.0 L343.7,583.0 L353.7,586.4 L363.6,587.7 L433.6,587.2 L442.3,601.4 L451.0,601.4 L459.7,597.9 L468.5,589.7 L477.2,581.4 L485.9,578.0 L494.6,569.0 L503.3,563.5 L512.0,552.3 L520.8,548.6 L529.5,539.9 L539.4,537.4 L556.9,530.4 L565.6,529.1 L574.3,529.1 L584.3,524.2 L593.0,522.4 L601.7,522.4 L610.4,520.4 L619.1,519.9 L627.9,517.9 L636.6,516.9 L698.8,516.9 L706.8,579.2 L715.0,579.2 L724.5,573.0 L751.2,573.0 L761.1,570.5 L778.5,569.2 L787.5,569.7 L796.2,564.8 L804.9,562.3 L814.9,558.0 L823.6,559.8 L832.3,560.5 L841.0,560.5 L849.7,558.5 L858.5,557.3 L867.2,560.5 L964.3,560.5 L973.0,587.2 L982.2,587.2 L991.7,581.4 L999.2,580.4 L1009.1,580.4 L1017.9,579.2 L1026.6,579.2 L1035.3,576.0 L1115.0,576.0 L1123.7,574.7 L1141.2,572.2 L1158.6,572.2 L1168.5,571.5 L1185.0,568.7 L1194.4,562.4 L1204.0,558.1 L1276.0,558.1 L1291.6,558.6 L1301.7,563.0 L1335.6,561.9 L1346.5,564.3 L1354.6,565.2 L1376.4,563.8 L1390.0,564.9 L1399.4,564.1 L1417.0,564.1 L1425.2,567.9 L1434.7,567.9" fill="none" stroke="#2b2f33" stroke-width="1.8" stroke-linejoin="round"/>
<line x1="2" y1="583.5" x2="1435" y2="583.5" stroke="#cccccc" stroke-width="2" stroke-dasharray="5 3"/>
<text x="12.3" y="531.5" font-size="14.5" fill="#131722" stroke="#131722" stroke-width="0.22" font-weight="normal" textLength="226" lengthAdjust="spacingAndGlyphs">FXS Fed Sentiment Index (close)</text>
<text x="249" y="531.5" font-size="14.5" fill="#0c0c0c" stroke="#0c0c0c" stroke-width="0.22" font-weight="normal" textLength="46.5" lengthAdjust="spacingAndGlyphs">115.04</text>
<text x="305.5" y="531.5" font-size="14.5" fill="#aaaaaa" stroke="#aaaaaa" stroke-width="0.22" font-weight="normal" textLength="46.5" lengthAdjust="spacingAndGlyphs">100.00</text>
<text x="1538.4" y="526.7" font-size="14.7" fill="#131722" stroke="#131722" stroke-width="0.3" textLength="47.2" lengthAdjust="spacingAndGlyphs">160.00</text>
<text x="1538.4" y="609.8" font-size="14.7" fill="#131722" stroke="#131722" stroke-width="0.3" textLength="38" lengthAdjust="spacingAndGlyphs">80.00</text>
<rect x="1527" y="557" width="64.7" height="22.3" rx="2" fill="#000"/>
<text x="1538.4" y="573.0" font-size="14.7" fill="#fff" stroke="#fff" stroke-width="0.7" textLength="47.2" lengthAdjust="spacingAndGlyphs">115.04</text>
<rect x="1527" y="579.3" width="64.7" height="22.5" rx="2" fill="#9e9e9e"/>
<text x="1538.4" y="595.2" font-size="14.7" fill="#131722" stroke="#131722" stroke-width="0.3" textLength="47.2" lengthAdjust="spacingAndGlyphs">100.00</text>
<text x="129.1" y="635" font-size="14" fill="#131722" stroke="#131722" stroke-width="0.2" font-weight="normal" textLength="24.9" lengthAdjust="spacingAndGlyphs">Aug</text>
<text x="315.1" y="635" font-size="14" fill="#131722" stroke="#131722" stroke-width="0.2" font-weight="normal" textLength="24.9" lengthAdjust="spacingAndGlyphs">Sep</text>
<text x="510.3" y="635" font-size="14" fill="#131722" stroke="#131722" stroke-width="0.2" font-weight="normal" textLength="24.4" lengthAdjust="spacingAndGlyphs">Oct</text>
<text x="712.4" y="635" font-size="14" fill="#131722" stroke="#131722" stroke-width="0.2" font-weight="normal" textLength="26.2" lengthAdjust="spacingAndGlyphs">Nov</text>
<text x="889.8" y="635" font-size="14" fill="#131722" stroke="#131722" stroke-width="0.2" font-weight="normal" textLength="25.4" lengthAdjust="spacingAndGlyphs">Dec</text>
<text x="1088.7" y="635" font-size="14" fill="#131722" stroke="#131722" stroke-width="0.2" font-weight="bold" textLength="35.6" lengthAdjust="spacingAndGlyphs">2026</text>
<text x="1289.3" y="635" font-size="14" fill="#131722" stroke="#131722" stroke-width="0.2" font-weight="normal" textLength="24.4" lengthAdjust="spacingAndGlyphs">Feb</text>
<text x="1466.2" y="635" font-size="14" fill="#131722" stroke="#131722" stroke-width="0.2" font-weight="normal" textLength="24.7" lengthAdjust="spacingAndGlyphs">Mar</text>
<path d="M1,1H1605V648H1Z" fill="none" stroke="#edeff5" stroke-width="2" shape-rendering="crispEdges"/>
</svg></body></html>
